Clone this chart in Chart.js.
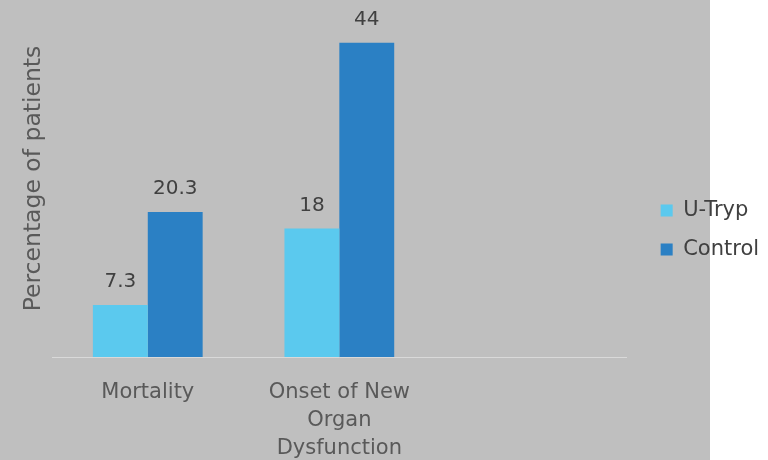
<html lang=en>
	<head>
		<title>Mortality and organ dysfunction</title>
		<meta http-equiv="content-type" content="text/html; charset=utf-8" />
		<script src="https://cdn.jsdelivr.net/npm/chart.js@4.4.1/dist/chart.umd.min.js"></script>
		<style>
			html, body { margin: 0; padding: 0; background: #ffffff; }
			#wrap { width: 768px; height: 460px; }
		</style>
	</head>
	<body>
	<!--chart-->
		<div id="wrap">
			<canvas id="myChart" width="768" height="460"></canvas>
		</div>
		<script>
		// data
		var categories = ["Mortality", ["Onset of New", "Organ", "Dysfunction"], ""];
		var seriesNames = ["U-Tryp", "Control"];
		var uTryp = [7.3, 18, null];
		var control = [20.3, 44, null];
		var yTitle = "Percentage of patients";

		var fontName = "'DejaVu Sans', sans-serif";

		// grey panel behind the plot, stops short of the legend
		var panelBg = {
			id: 'panelBg',
			beforeDraw: function (chart) {
				var ctx = chart.ctx;
				ctx.save();
				ctx.fillStyle = '#bfbfbf';
				ctx.fillRect(0, 0, 710, chart.height);
				ctx.restore();
			}
		};

		// value labels above the bars
		var valueLabels = {
			id: 'valueLabels',
			afterDatasetsDraw: function (chart) {
				var ctx = chart.ctx;
				ctx.save();
				ctx.font = "20px " + fontName;
				ctx.fillStyle = '#404040';
				ctx.textAlign = 'center';
				ctx.textBaseline = 'middle';
				chart.data.datasets.forEach(function (ds, i) {
					var meta = chart.getDatasetMeta(i);
					meta.data.forEach(function (bar, j) {
						if (ds.data[j] === null) return;
						ctx.fillText(String(ds.data[j]), bar.x, bar.y - 23);
					});
				});
				ctx.restore();
			}
		};

		var ctx = document.getElementById("myChart");
		var myChart = new Chart(ctx, {
			type: 'bar',
			data: {
				labels: categories,
				datasets: [{
					label: seriesNames[0],
					data: uTryp,
					backgroundColor: '#5bc9ee',
					categoryPercentage: 0.573,
					barPercentage: 1.0
				}, {
					label: seriesNames[1],
					data: control,
					backgroundColor: '#2b80c4',
					categoryPercentage: 0.573,
					barPercentage: 1.0
				}]
			},
			plugins: [panelBg, valueLabels],
			options: {
				responsive: false,
				animation: false,
				layout: { padding: { left: 16, top: 0, right: 0, bottom: 0 } },
				plugins: {
					tooltip: { enabled: false },
					legend: {
						position: 'right',
						labels: {
							boxWidth: 12,
							boxHeight: 12,
							padding: 18,
							color: '#404040',
							font: { family: fontName, size: 21 }
						}
					}
				},
				scales: {
					x: {
						grid: { display: false, drawTicks: false },
						border: { display: true, color: '#d9d9d9', width: 1 },
						ticks: {
							color: '#595959',
							padding: 22,
							maxRotation: 0,
							autoSkip: false,
							font: { family: fontName, size: 21, lineHeight: 1.33 }
						},
						afterFit: function (scale) { scale.height = 103; }
					},
					y: {
						min: 0,
						max: 50,
						grid: { display: false },
						border: { display: false },
						ticks: { display: false },
						title: {
							display: true,
							text: yTitle,
							color: '#595959',
							font: { family: fontName, size: 23.5 }
						},
						afterFit: function (scale) { scale.width = 36; }
					},
					// empty spacer between plot and legend
					gap: {
						type: 'linear',
						position: 'right',
						display: true,
						grid: { display: false },
						border: { display: false },
						ticks: { display: false },
						afterFit: function (scale) { scale.width = 16; }
					}
				}
			}
		});
		</script>
	</body>
</html>
